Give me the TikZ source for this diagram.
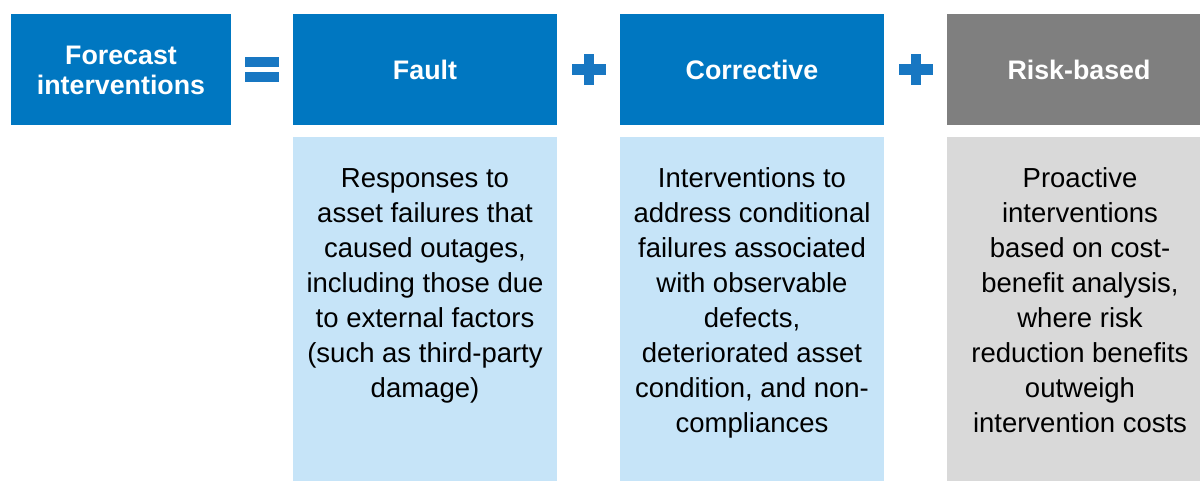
\documentclass[tikz,border=0pt]{standalone}
\usepackage{fontspec}
\setmainfont{Liberation Sans}
\definecolor{hdrblue}{HTML}{0077C1}
\definecolor{opblue}{HTML}{1877C2}
\definecolor{bodyblue}{HTML}{C6E4F8}
\definecolor{hdrgray}{HTML}{7F7F7F}
\definecolor{bodygray}{HTML}{D9D9D9}
\begin{document}
\begin{tikzpicture}[x=1pt,y=-1pt,
  box/.style={rectangle, inner sep=0pt, minimum width=264pt},
  hdr/.style={box, minimum height=111pt, text=white, align=center,
    font=\fontsize{26.8}{30}\selectfont\bfseries},
  bodybox/.style={box, minimum height=350pt},
  bodytext/.style={anchor=north, inner sep=0pt, align=center, text=black,
    font=\fontsize{27.5}{35.1}\selectfont},
  opsym/.style={fill=opblue}
]
\useasboundingbox (0,0) rectangle (1200,481);
\clip (0,0) rectangle (1200,481);

% left-hand total
\node[hdr, fill=hdrblue, minimum width=220pt] (total) at (121,70)
  {Forecast\\interventions};

% equals sign
\fill[opsym] (245,57) rectangle (279,67);
\fill[opsym] (245,72) rectangle (279,82);

% column headers
\node[hdr, fill=hdrblue] (fault) at (425,69.5) {Fault};
\node[hdr, fill=hdrblue] (corr) at (752,69.5) {Corrective};
\node[hdr, fill=hdrgray] (risk) at (1079,69.5) {Risk-based};

% plus signs
\fill[opsym] (572,64) rectangle (606,75);
\fill[opsym] (584,54) rectangle (594,85);
\fill[opsym] (899,64) rectangle (933,75);
\fill[opsym] (911,54) rectangle (921,85);

% column bodies
\node[bodybox, fill=bodyblue, anchor=north] (faultbody) at (425,137) {};
\node[bodybox, fill=bodyblue, anchor=north] (corrbody) at (752,137) {};
\node[bodybox, fill=bodygray, anchor=north] (riskbody) at (1079,137) {};

\node[bodytext] (faulttxt) at (425,162.5) {\strut Responses to\\asset failures that\\caused outages,\\including those due\\to external factors\\(such as third-party\\damage)};
\node[bodytext] (corrtxt) at (752,162.5) {\strut Interventions to\\address conditional\\failures associated\\with observable\\defects,\\deteriorated asset\\condition, and non-\\compliances};
\node[bodytext] (risktxt) at (1080,162.5) {\strut Proactive\\interventions\\based on cost-\\benefit analysis,\\where risk\\reduction benefits\\outweigh\\intervention costs};
\end{tikzpicture}
\end{document}
